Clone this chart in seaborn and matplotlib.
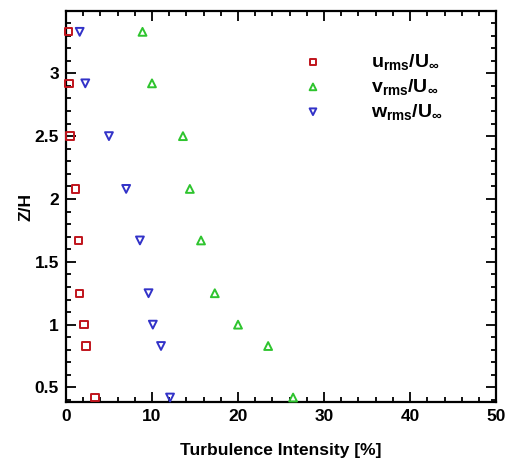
import matplotlib
matplotlib.use("Agg")
import matplotlib.pyplot as plt
import seaborn as sns
from matplotlib.ticker import MultipleLocator

# Z/H stations and turbulence intensity [%]
z_h = [3.33, 2.92, 2.50, 2.08, 1.67, 1.25, 1.00, 0.83, 0.42]
u_rms = [0.27, 0.35, 0.47, 1.13, 1.43, 1.59, 2.09, 2.33, 3.37]
v_rms = [8.9, 10.0, 13.6, 14.4, 15.7, 17.3, 20.0, 23.5, 26.4]
w_rms = [1.6, 2.25, 5.0, 7.0, 8.6, 9.6, 10.1, 11.05, 12.1]

x_ticks = [0, 10, 20, 30, 40, 50]
y_ticks = [0.5, 1, 1.5, 2, 2.5, 3]

sns.set_theme(style="ticks")
plt.rcParams["font.family"] = ["Liberation Sans", "DejaVu Sans"]
plt.rcParams["font.weight"] = "bold"
plt.rcParams["text.color"] = "black"
plt.rcParams["axes.labelcolor"] = "black"
plt.rcParams["mathtext.fontset"] = "custom"
plt.rcParams["mathtext.rm"] = "Liberation Sans:bold"
plt.rcParams["mathtext.it"] = "Liberation Sans:bold"
plt.rcParams["mathtext.bf"] = "Liberation Sans:bold"

fig = plt.figure(figsize=(5.11, 4.62), dpi=100)
ax = fig.add_axes([0.129, 0.130, 0.842, 0.846])

series = [
    (u_rms, "s", "#c0141c", r"$\mathrm{u_{rms}/U_{\infty}}$", 28),
    (v_rms, "^", "#2ec42e", r"$\mathrm{v_{rms}/U_{\infty}}$", 32),
    (w_rms, "v", "#3232c8", r"$\mathrm{w_{rms}/U_{\infty}}$", 32),
]
for vals, mk, col, lab, sz in series:
    sns.scatterplot(x=vals, y=z_h, marker=mk, s=sz, facecolor="none",
                    edgecolor=col, linewidth=1.4, label=lab, ax=ax,
                    clip_on=False, zorder=3)

ax.set_xlim(0, 50)
ax.set_ylim(0.385, 3.495)
ax.set_xticks(x_ticks)
ax.set_xticklabels([str(t) for t in x_ticks])
ax.set_yticks(y_ticks)
ax.set_yticklabels(["0.5", "1", "1.5", "2", "2.5", "3"])
ax.xaxis.set_minor_locator(MultipleLocator(2))
ax.yaxis.set_minor_locator(MultipleLocator(0.1))
ax.tick_params(which="both", direction="in", top=True, right=True,
               colors="black", width=1.3)
ax.tick_params(which="major", length=7, labelsize=12.5, pad=5)
ax.tick_params(which="minor", length=3.5)
for lbl in ax.get_xticklabels() + ax.get_yticklabels():
    lbl.set_fontweight("bold")
for sp in ax.spines.values():
    sp.set_linewidth(1.6)
    sp.set_color("black")

ax.set_xlabel("Turbulence Intensity [%]", fontsize=12.5, fontweight="bold",
              labelpad=14)
ax.set_ylabel("Z/H", fontsize=12.5, fontweight="bold", labelpad=1)

leg = ax.legend(loc="upper left", bbox_to_anchor=(0.529, 0.895), frameon=False,
                fontsize=14, handletextpad=2.0, labelspacing=0.25,
                borderaxespad=0, borderpad=0, markerscale=0.85)
for t in leg.get_texts():
    t.set_color("black")

fig.savefig("out.png", dpi=100)
